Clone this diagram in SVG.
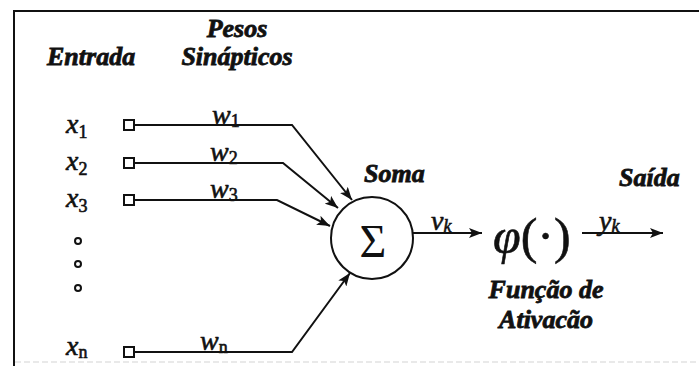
<svg xmlns="http://www.w3.org/2000/svg" width="699" height="367" viewBox="0 0 699 367">
<style>
text{font-family:Liberation Serif,Times New Roman,serif;fill:#111}
.hdr{font-weight:bold;font-style:italic;font-size:26px;stroke:#111;stroke-width:0.8}
.var{font-style:italic;font-size:28px;stroke:#111;stroke-width:0.6}
.sub{font-style:normal;font-size:18px}
.subi{font-style:italic;font-size:18px}
.ln{fill:none;stroke:#111;stroke-width:2}
.sq{fill:#fff;stroke:#111;stroke-width:2}
.dot{fill:none;stroke:#111;stroke-width:2}
.arr{fill:none;stroke:#111;stroke-width:2;marker-end:url(#ah)}
</style>
<defs>
<marker id="ah" markerUnits="userSpaceOnUse" markerWidth="14" markerHeight="10" refX="13" refY="5" orient="auto">
<path d="M0,0 L13,5 L0,10 L3,5 z" fill="#111"/>
</marker>
</defs>
<rect width="699" height="367" fill="#fff"/>
<g id="frame">
<line x1="13" y1="11" x2="699" y2="11" class="ln"/>
<line x1="14" y1="10" x2="14" y2="366" class="ln"/>
<line x1="15" y1="362" x2="699" y2="362" stroke="#e2e2e2" stroke-width="1.5" stroke-dasharray="6 3"/>
</g>
<g id="headers">
<text class="hdr" x="47" y="65">Entrada</text>
<text class="hdr" x="237" y="37" text-anchor="middle">Pesos</text>
<text class="hdr" x="237" y="65" text-anchor="middle">Sinápticos</text>
</g>
<g id="input-x1">
<rect class="sq" x="124" y="120" width="10" height="10"/>
<text class="var" x="66" y="133">x<tspan class="sub" dy="5">1</tspan></text>
</g>
<g id="input-x2">
<rect class="sq" x="124" y="158" width="10" height="10"/>
<text class="var" x="66" y="170">x<tspan class="sub" dy="5">2</tspan></text>
</g>
<g id="input-x3">
<rect class="sq" x="124" y="195" width="10" height="10"/>
<text class="var" x="66" y="207">x<tspan class="sub" dy="5">3</tspan></text>
</g>
<g id="ellipsis">
<circle class="dot" cx="78" cy="241" r="3"/>
<circle class="dot" cx="78" cy="264" r="3"/>
<circle class="dot" cx="78" cy="288" r="3"/>
</g>
<g id="input-xn">
<rect class="sq" x="124" y="347" width="10" height="10"/>
<text class="var" x="66" y="355">x<tspan class="sub" dy="3">n</tspan></text>
</g>
<g id="soma">
<circle cx="372" cy="238" r="41" fill="#fff" stroke="#111" stroke-width="2"/>
<text x="373" y="257" text-anchor="middle" font-size="46">Σ</text>
<text class="hdr" x="364" y="182">Soma</text>
</g>
<g id="ativacao">
<text x="493" y="253" font-size="50" font-style="italic" stroke="#111" stroke-width="0.6">φ<tspan font-style="normal">(·)</tspan></text>
<text class="hdr" x="546" y="298" text-anchor="middle">Função de</text>
<text class="hdr" x="546" y="328" text-anchor="middle">Ativacão</text>
</g>
<g id="saida">
<text class="hdr" x="619" y="186">Saída</text>
</g>
<g id="connectors">
<polyline class="arr" points="134,125 292,125 352,200"/>
<polyline class="arr" points="134,163 283,163 338,208"/>
<polyline class="arr" points="134,200 277,200 330,226"/>
<polyline class="arr" points="134,352 292,352 350,273"/>
<line class="arr" x1="413" y1="233" x2="482" y2="233"/>
<line class="arr" x1="582" y1="233" x2="663" y2="233"/>
<text class="var" x="212" y="124">w<tspan class="sub" dy="3">1</tspan></text>
<text class="var" x="210" y="161">w<tspan class="sub" dy="3">2</tspan></text>
<text class="var" x="210" y="198">w<tspan class="sub" dy="3">3</tspan></text>
<text class="var" x="200" y="350">w<tspan class="sub" dy="3">n</tspan></text>
<text class="var" x="431" y="230">v<tspan class="subi" dy="2">k</tspan></text>
<text class="var" x="599" y="230">y<tspan class="subi" dy="2">k</tspan></text>
</g>
</svg>
